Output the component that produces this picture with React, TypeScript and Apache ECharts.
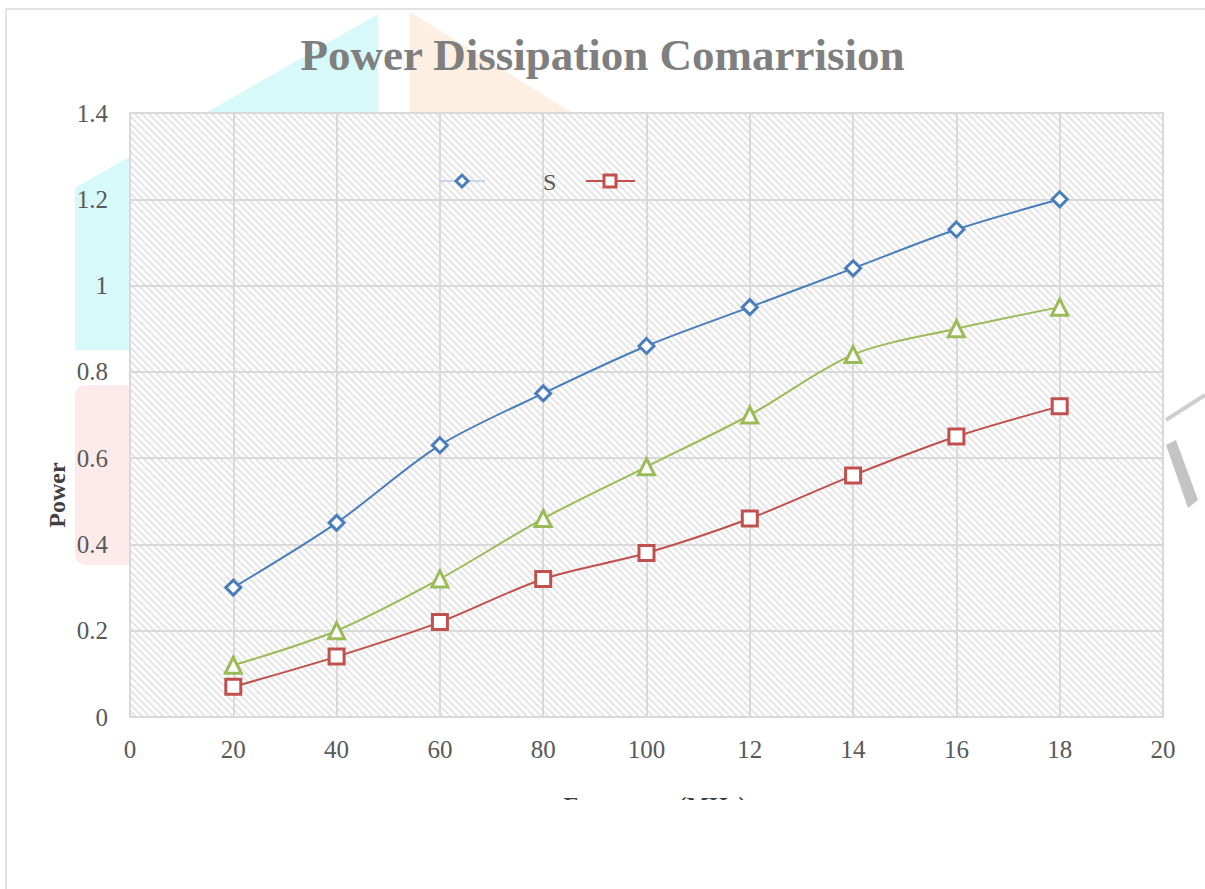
import React, { useEffect, useRef } from "react";
import * as echarts from "echarts";

const titleText = "Power Dissipation Comarrision";
const yAxisTitle = "Power";
const xAxisTitle = "Frequency (MHz)";
const legendText = "S";

const frequency = [20, 40, 60, 80, 100, 120, 140, 160, 180];
const xTickLabels = ["0", "20", "40", "60", "80", "100", "12", "14", "16", "18", "20"];
const seriesBlue = [0.3, 0.45, 0.63, 0.75, 0.86, 0.95, 1.04, 1.13, 1.2];
const seriesGreen = [0.12, 0.2, 0.32, 0.46, 0.58, 0.7, 0.84, 0.9, 0.95];
const seriesRed = [0.07, 0.14, 0.22, 0.32, 0.38, 0.46, 0.56, 0.65, 0.72];

const BLUE = "#4a7ebb";
const GREEN = "#9bbb59";
const RED = "#c0504d";
const SERIF = "'Liberation Serif', 'DejaVu Serif', serif";

function makeHatch(): HTMLCanvasElement {
  const s = 7;
  const c = document.createElement("canvas");
  c.width = s;
  c.height = s;
  const ctx = c.getContext("2d")!;
  ctx.fillStyle = "#ffffff";
  ctx.fillRect(0, 0, s, s);
  ctx.strokeStyle = "#e6e6e6";
  ctx.lineWidth = 2.2;
  ctx.beginPath();
  ctx.moveTo(-s, -s);
  ctx.lineTo(2 * s, 2 * s);
  ctx.moveTo(-s, 0);
  ctx.lineTo(s, 2 * s);
  ctx.moveTo(0, -s);
  ctx.lineTo(2 * s, s);
  ctx.stroke();
  return c;
}

function pairs(ys: number[]) {
  return frequency.map((x, i) => [x, ys[i]]);
}

export default function App() {
  const ref = useRef<HTMLDivElement>(null);
  useEffect(() => {
    if (!ref.current) return;
    const chart = echarts.init(ref.current, undefined, { renderer: "svg" });
    const hatch = makeHatch();
    const lineSeries = (data: number[], color: string, symbol: string, size: number) => ({
      type: "line",
      data: pairs(data),
      smooth: 0.3,
      symbol,
      symbolSize: size,
      showAllSymbol: true,
      lineStyle: { color, width: 2 },
      itemStyle: { color: "#ffffff", borderColor: color, borderWidth: 3 },
      z: 5,
    });
    chart.setOption({
      animation: false,
      backgroundColor: "#ffffff",
      title: {
        text: titleText,
        left: "center",
        top: 27,
        textStyle: { fontFamily: SERIF, fontSize: 45, fontWeight: "bold", color: "#7f7f7f" },
      },
      grid: {
        left: 130,
        top: 113,
        right: 42,
        bottom: 172,
        show: true,
        backgroundColor: { image: hatch, repeat: "repeat" },
        borderColor: "#d9d9d9",
        borderWidth: 2,
      },
      xAxis: {
        type: "value",
        min: 0,
        max: 200,
        interval: 20,
        axisLine: { show: false },
        axisTick: { show: false },
        splitLine: { show: true, lineStyle: { color: "#d9d9d9", width: 2 } },
        axisLabel: {
          margin: 20,
          fontFamily: SERIF,
          fontSize: 25,
          color: "#595959",
          formatter: (v: number) => xTickLabels[Math.round(v / 20)] ?? "",
        },
      },
      yAxis: {
        type: "value",
        min: 0,
        max: 1.4,
        interval: 0.2,
        axisLine: { show: false },
        axisTick: { show: false },
        splitLine: { show: true, lineStyle: { color: "#d9d9d9", width: 2 } },
        axisLabel: {
          margin: 22,
          fontFamily: SERIF,
          fontSize: 25,
          color: "#595959",
        },
      },
      series: [
        lineSeries(seriesBlue, BLUE, "diamond", 15),
        lineSeries(seriesGreen, GREEN, "triangle", 16),
        lineSeries(seriesRed, RED, "rect", 15),
      ],
      graphic: [
        // watermark shapes
        { type: "polygon", z: -5, shape: { points: [[378, 14], [378, 350], [75, 350], [75, 188]] }, style: { fill: "#d4f8f9", opacity: 0.9 } },
        { type: "polygon", z: -5, shape: { points: [[410, 12], [410, 130], [600, 130]] }, style: { fill: "#fdeddf", opacity: 0.9 } },
        { type: "rect", z: -5, shape: { x: 75, y: 385, width: 80, height: 180, r: 10 }, style: { fill: "#fde8e8", opacity: 0.9 } },
        { type: "polyline", z: -5, shape: { points: [[1166, 420], [1205, 395]] }, style: { stroke: "#cfcfcf", lineWidth: 4 } },
        { type: "polygon", z: -5, shape: { points: [[1166, 445], [1176, 440], [1198, 500], [1188, 508]] }, style: { fill: "#c4c4c4" } },
        // outer frame
        { type: "rect", z: 20, shape: { x: 6, y: 9, width: 1400, height: 1200 }, style: { fill: "none", stroke: "#d9d9d9", lineWidth: 1.5 } },
        // y axis title
        { type: "text", z: 21, x: 57, y: 495, rotation: Math.PI / 2, style: { text: yAxisTitle, fontFamily: SERIF, fontSize: 24, fontWeight: "bold", fill: "#404040", align: "center", verticalAlign: "middle" } },
        // legend
        { type: "line", z: 20, shape: { x1: 440, y1: 181, x2: 485, y2: 181 }, style: { stroke: "#c6d7ee", lineWidth: 2 } },
        { type: "polygon", z: 21, shape: { points: [[462, 175], [468, 181], [462, 187], [456, 181]] }, style: { fill: "#ffffff", stroke: BLUE, lineWidth: 3 } },
        { type: "text", z: 21, x: 543, y: 182, style: { text: legendText, fontFamily: SERIF, fontSize: 24, fill: "#595959", verticalAlign: "middle" } },
        { type: "line", z: 20, shape: { x1: 586, y1: 181, x2: 635, y2: 181 }, style: { stroke: RED, lineWidth: 2 } },
        { type: "rect", z: 21, shape: { x: 604, y: 175, width: 12, height: 12 }, style: { fill: "#ffffff", stroke: RED, lineWidth: 3 } },
        // clipped x-axis title
        { type: "text", z: 22, x: 655, y: 793, style: { text: xAxisTitle, fontFamily: SERIF, fontSize: 24, fontWeight: "bold", fill: "#404040", align: "center", verticalAlign: "top" } },
        { type: "rect", z: 23, shape: { x: 10, y: 800, width: 1195, height: 89 }, style: { fill: "#ffffff" } },
      ],
    });
    return () => chart.dispose();
  }, []);
  return <div ref={ref} style={{ position: "absolute", left: 0, top: 0, width: 1205, height: 889 }} />;
}
